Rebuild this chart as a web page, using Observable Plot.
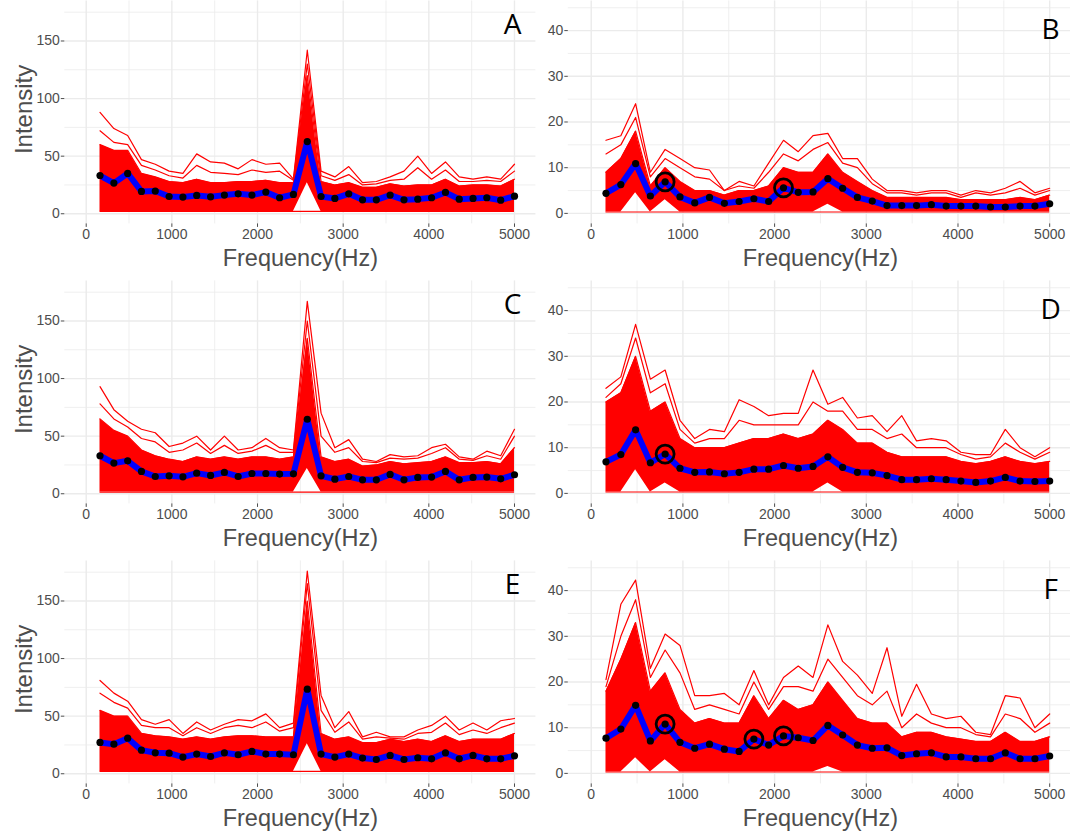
<!DOCTYPE html>
<html>
<head>
<meta charset="utf-8">
<script src="https://cdn.jsdelivr.net/npm/d3@7"></script>
<script src="https://cdn.jsdelivr.net/npm/@observablehq/plot@0.6"></script>
<style>
  html, body { margin: 0; padding: 0; background: #fff; }
  #fig { position: relative; width: 1070px; height: 831px; overflow: hidden; background: #fff; }
  #fig > div { position: absolute; }
</style>
</head>
<body>
<div id="fig"></div>
<script>
// Frequencies (Hz) of the 31 spectrum bins
const freq = [161,323,484,645,806,968,1129,1290,1452,1613,1774,1935,2097,2258,2419,2581,2742,2903,3065,3226,3387,3548,3710,3871,4032,4194,4355,4516,4677,4839,5000];

// Axis ticks
const xTicks = [0,1000,2000,3000,4000,5000];
const xMinor = [500,1500,2500,3500,4500];
const yTicksLeft = [0,50,100,150];
const yMinorLeft = [25,75,125,175];
const yTicksRight = [0,10,20,30,40];
const yMinorRight = [5,15,25,35,45];

// Panel A: mean spectrum, highest trace, second-tier traces, top and bottom of the dense bundle
const meanA  = [33.2,26.6,35.0,19.4,19.7,15.0,14.5,15.9,14.7,16.2,17.3,16.2,18.8,13.9,16.8,62.7,15.0,13.3,17.3,12.1,12.1,16.2,12.1,12.7,13.9,18.5,12.7,13.3,13.9,11.8,15.3];
const maxA   = [88,74,68,47,43,37,35,52,45,44,39,47,43,44,30,142,37,32,41,27,28,32,37,50,35,45,32,30,32,30,43];
const tierA  = [72,62,60,42,38,33,31,42,36,35,34,38,36,37,29,130,33,29,34,25,26,29,30,40,30,38,28,28,29,28,37];
const denseA = [60,55,55,35,32,28,27,30,27,27,28,28,29,27,27,120,28,25,27,23,23,26,24,25,25,30,24,25,25,24,30];
const lowA   = [2,2,2,2,2,2,2,2,2,2,2,2,2,2,2,27,2,2,2,2,2,2,2,2,2,2,2,2,2,2,2];
const circA  = [];

// Panel B
const meanB  = [4.4,6.3,10.9,3.8,6.9,3.6,2.3,3.5,2.2,2.6,3.2,2.6,5.6,4.6,4.7,7.6,5.5,3.5,2.7,1.7,1.7,1.7,1.9,1.6,1.6,1.6,1.4,1.4,1.6,1.6,2.1];
const maxB   = [16,17,24,9,14,12,10,9.5,5,7,6,11,16,13.5,17,17.5,12,12,7.5,5,5,4.5,5,5,4,5,4.5,5.5,7,4.5,5.5];
const tierB  = [13,15,21,8,12,10,8,7.5,5,6,5.5,9,13,11.5,14,15.5,11,10,6.5,4.5,4.5,4,4.5,4.5,3.5,4.5,4,4.5,5.5,4,5];
const denseB = [9,12,18,6,10,7,5,5,4,5,5,6,10,9,9,13,9,7,5,3.5,3.5,3.5,3.5,3.5,3,3,3,3,3.5,3,4];
const lowB   = [0.3,0.3,4.5,0.3,3,0.3,0.3,0.3,0.3,0.3,0.3,0.3,0.3,0.3,0.3,2,0.3,0.3,0.3,0.3,0.3,0.3,0.3,0.3,0.3,0.3,0.3,0.3,0.3,0.3,0.3];
const circB  = [806,2097];

// Panel C
const meanC  = [33.0,26.6,28.6,19.4,15.0,15.6,14.7,17.9,15.9,18.5,15.0,17.6,17.6,17.1,17.3,64.7,15.6,12.7,15.0,12.1,12.1,16.8,12.1,14.2,14.5,19.4,12.1,14.2,14.5,13.0,16.5];
const maxC   = [93,73,63,56,53,41,44,50,38,50,38,40,48,40,38,167,70,40,47,30,28,34,32,33,40,43,32,30,37,33,56];
const tierC  = [78,65,58,48,45,36,38,44,35,42,35,37,42,36,36,150,50,36,40,28,27,31,30,31,35,40,30,29,33,30,50];
const denseC = [65,55,50,38,33,30,28,32,30,32,30,32,32,30,32,135,32,28,30,24,25,28,26,27,28,32,27,27,28,26,40];
const lowC   = [1.5,1.5,1.5,1.5,1.5,1.5,1.5,1.5,1.5,1.5,1.5,1.5,1.5,1.5,1.5,22,1.5,1.5,1.5,1.5,1.5,1.5,1.5,1.5,1.5,1.5,1.5,1.5,1.5,1.5,1.5];
const circC  = [];

// Panel D
const meanD  = [6.9,8.5,13.9,6.7,8.6,5.5,4.6,4.7,4.3,4.6,5.3,5.3,6.1,5.5,5.9,8.0,5.7,4.6,4.5,3.9,3.0,3.0,3.2,3.0,2.7,2.4,2.7,3.5,2.7,2.6,2.7];
const maxD   = [23,25.5,37,25,27,16,12,14,13.5,20.5,19,17,17.5,17.5,27,19.5,21,16.5,17,13.5,17,11.5,12,11.5,9,8.5,8.5,14,10,8,10];
const tierD  = [21,24,34,22,24,14,11,12,12,16,15,15,15,15,20,18,18,14,14,12,13,10,10,10,8.5,7.5,8,11,9,7.5,9];
const denseD = [20,22,30,18,20,12,10,10,10,11,12,12,13,12,13,16,14,11,11,9,8,8,8,8,7,6.5,7,8,7,6.5,7];
const lowD   = [0.3,0.3,5.2,0.3,2.3,0.3,0.3,0.3,0.3,0.3,0.3,0.3,0.3,0.3,0.3,2.3,0.3,0.3,0.3,0.3,0.3,0.3,0.3,0.3,0.3,0.3,0.3,0.3,0.3,0.3,0.3];
const circD  = [806];

// Panel E
const meanE  = [27.2,25.7,30.9,20.5,18.2,17.9,14.5,17.1,15.0,18.2,16.5,19.4,17.1,17.1,16.5,73.4,17.1,14.5,17.1,13.6,12.4,15.9,12.4,13.9,13.0,18.2,13.0,15.9,13.0,13.0,15.6];
const maxE   = [81,70,63,47,43,47,35,45,38,43,47,46,52,40,44,176,68,40,54,32,36,32,32,38,42,50,38,44,38,46,48];
const tierE  = [70,62,57,42,40,40,33,40,35,40,42,40,45,37,40,165,55,36,45,30,32,31,30,35,36,44,34,38,35,40,44];
const denseE = [55,50,50,35,33,32,30,32,30,32,33,33,32,32,32,150,35,30,32,27,27,30,28,30,28,33,28,30,30,30,35];
const lowE   = [2,2,2,2,2,2,2,2,2,2,2,2,2,2,2,26,2,2,2,2,2,2,2,2,2,2,2,2,2,2,2];
const circE  = [];

// Panel F
const meanF  = [7.7,9.7,14.9,7.1,10.8,6.8,5.5,6.4,5.3,4.8,7.5,6.2,8.2,7.8,7.2,10.5,8.4,6.2,5.5,5.6,3.9,4.3,4.5,3.6,3.6,3.2,3.2,4.5,3.2,3.2,3.8];
const maxF   = [20.5,37,42.3,23,30.5,28,17,17,17.5,15,22.5,15,21,23.5,21,32.5,24.5,21.5,17.5,27.5,12.5,19.5,13,12,12.5,9,8.5,17,16.5,10,13];
const tierF  = [19,30,38,21,27,22,14,15,14,13,20,14,19,19,18,25,21,17,15,18,10,13,11,10,10,8.5,8,13,12,9,11];
const denseF = [18,25,33,18,22,14,11,12,11,11,17,12,16,14,15,20,16,12,11,11,8,9,9,8,7.5,7,7,9,7,7,8];
const lowF   = [0.3,0.3,3.4,0.3,3,0.3,0.3,0.3,0.3,0.3,0.3,0.3,0.3,0.3,0.3,1.5,0.3,0.3,0.3,0.3,0.3,0.3,0.3,0.3,0.3,0.3,0.3,0.3,0.3,0.3,0.3];
const circF  = [806,1774,2097];

const panels = [
  {label:"A", col:0, row:0, mean:meanA, max:maxA, tier:tierA, dense:denseA, low:lowA, circ:circA},
  {label:"B", col:1, row:0, mean:meanB, max:maxB, tier:tierB, dense:denseB, low:lowB, circ:circB},
  {label:"C", col:0, row:1, mean:meanC, max:maxC, tier:tierC, dense:denseC, low:lowC, circ:circC},
  {label:"D", col:1, row:1, mean:meanD, max:maxD, tier:tierD, dense:denseD, low:lowD, circ:circD},
  {label:"E", col:0, row:2, mean:meanE, max:maxE, tier:tierE, dense:denseE, low:lowE, circ:circE},
  {label:"F", col:1, row:2, mean:meanF, max:maxF, tier:tierF, dense:denseF, low:lowF, circ:circF}
];

const layout = [
  {left:0, width:540, marginLeft:64.3, marginRight:4.6, yDomain:[-8.8,184.8], yTicks:yTicksLeft, yMinor:yMinorLeft, letterDx:-23.4, letterDy:32.6, ytitle:true},
  {left:535, width:540, marginLeft:32.8, marginRight:2.9, yDomain:[-2.3,46.5], yTicks:yTicksRight, yMinor:yMinorRight, letterDx:-22, letterDy:37.6, ytitle:false}
];

const H = 280, marginTop = 0.4, marginBottom = 280 - 223.4;
const fig = document.getElementById("fig");
const FONT = "'Liberation Sans', Arial, sans-serif";

for (const p of panels) {
  const L = layout[p.col];
  const table = freq.map((f, i) => ({freq: f, mean: p.mean[i], max: p.max[i], tier: p.tier[i], dense: p.dense[i], low: p.low[i]}));
  const floorVal = p.low[0];
  const circles = p.circ.map(f => ({freq: f, mean: p.mean[freq.indexOf(f)]}));
  const marks = [
    Plot.ruleX(xMinor, {stroke: "#ebebeb", strokeWidth: 0.8}),
    Plot.ruleY(L.yMinor, {stroke: "#ebebeb", strokeWidth: 0.8}),
    Plot.ruleX(xTicks, {stroke: "#ebebeb", strokeWidth: 1.4}),
    Plot.ruleY(L.yTicks, {stroke: "#ebebeb", strokeWidth: 1.4}),
    Plot.areaY(table, {x: "freq", y1: "low", y2: "dense", fill: "#ff0000"}),
    Plot.line(table, {x: "freq", y: "max", stroke: "#ff0000", strokeWidth: 1.2}),
    Plot.line(table, {x: "freq", y: "tier", stroke: "#ff0000", strokeWidth: 1.2}),
    Plot.line(table, {x: "freq", y: "dense", stroke: "#ff0000", strokeWidth: 1.2}),
    Plot.ruleY([floorVal], {x1: freq[0], x2: freq[freq.length - 1], stroke: "#ff0000", strokeWidth: 1.2}),
    Plot.line(table, {x: "freq", y: "mean", stroke: "#0000ff", strokeWidth: 6, strokeLinejoin: "round"}),
    Plot.dot(table, {x: "freq", y: "mean", r: 3.6, fill: "#000000"}),
    Plot.dot(circles, {x: "freq", y: "mean", r: 9, stroke: "#000000", strokeWidth: 2.8, fill: "none"}),
    Plot.axisX(xTicks, {tickSize: 3.5, tickPadding: 2, fontSize: 14, tickFormat: d => String(d), label: null, color: "#4d4d4d"}),
    Plot.axisY(L.yTicks, {tickSize: 3.5, tickPadding: 1.5, fontSize: 14, tickFormat: d => String(d), label: null, color: "#4d4d4d"}),
    Plot.text(["Frequency(Hz)"], {frameAnchor: "bottom", textAnchor: "middle", dy: 41.6, lineAnchor: "bottom", fontSize: 23.5, fill: "#4d4d4d"}),
    Plot.text([p.label], {frameAnchor: "top-right", textAnchor: "middle", lineAnchor: "bottom", dx: L.letterDx, dy: L.letterDy, fontSize: 28, fill: "#000", fontFamily: "'Open Sans', 'Noto Sans', sans-serif"})
  ];
  if (L.ytitle) {
    marks.push(Plot.text(["Intensity"], {frameAnchor: "left", textAnchor: "middle", rotate: -90, lineAnchor: "bottom", dx: -33, dy: -3, fontSize: 24, fill: "#4d4d4d"}));
  }
  const chart = Plot.plot({
    width: L.width,
    height: H,
    marginLeft: L.marginLeft,
    marginRight: L.marginRight,
    marginTop: marginTop,
    marginBottom: marginBottom,
    x: {domain: [-250, 5250], axis: null},
    y: {domain: L.yDomain, axis: null},
    style: {background: "none", overflow: "visible", maxWidth: "none", fontFamily: FONT},
    marks
  });
  const holder = document.createElement("div");
  holder.style.left = L.left + "px";
  holder.style.top = (p.row * 280) + "px";
  holder.appendChild(chart);
  fig.appendChild(holder);
}
</script>
</body>
</html>
